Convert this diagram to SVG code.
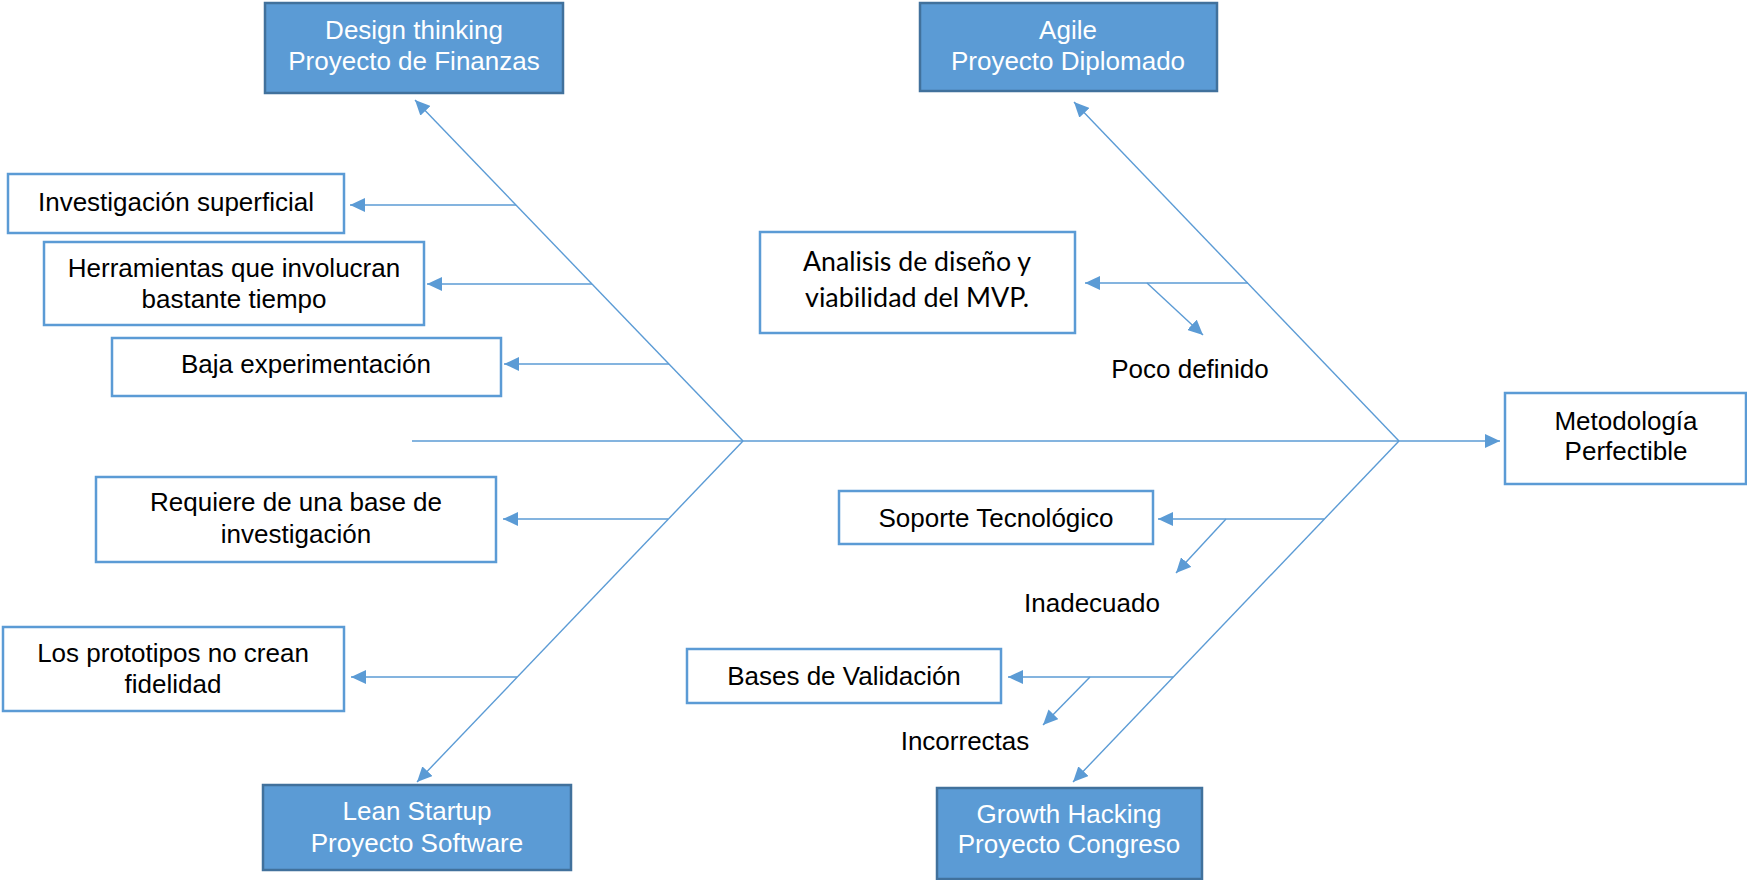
<svg xmlns="http://www.w3.org/2000/svg" width="1747" height="880" viewBox="0 0 1747 880">
<style>
.box{fill:#fff;stroke:#5B9BD5;stroke-width:2.5}
.hbox{fill:#5B9BD5;stroke:#41719C;stroke-width:2.5}
.t{font-family:"Liberation Sans",Arial,sans-serif;font-size:26px;fill:#000;text-anchor:middle}
.w{fill:#fff}
.c{font-family:Lato,"Open Sans",sans-serif}
.ln{stroke:#5B9BD5;stroke-width:1.4;fill:none;marker-end:url(#ah)}
</style>
<defs>
<marker id="ah" markerUnits="userSpaceOnUse" markerWidth="16" markerHeight="14" refX="15" refY="7" orient="auto">
<path d="M0,0 L15,7 L0,14 z" fill="#5B9BD5"/>
</marker>
</defs>
<rect width="1747" height="880" fill="#fff"/>
<g id="connectors">
<line class="ln" x1="412" y1="441" x2="1500" y2="441"/>
<line class="ln" x1="743" y1="441" x2="415" y2="100"/>
<line class="ln" x1="1399" y1="441" x2="1074" y2="102"/>
<line class="ln" x1="743" y1="441" x2="417" y2="782"/>
<line class="ln" x1="1399" y1="441" x2="1073" y2="782"/>
<line class="ln" x1="516" y1="205" x2="350" y2="205"/>
<line class="ln" x1="592" y1="284" x2="427" y2="284"/>
<line class="ln" x1="669" y1="364" x2="504" y2="364"/>
<line class="ln" x1="668" y1="519" x2="503" y2="519"/>
<line class="ln" x1="517" y1="677" x2="351" y2="677"/>
<line class="ln" x1="1248" y1="283" x2="1085" y2="283"/>
<line class="ln" x1="1147" y1="283" x2="1203" y2="335"/>
<line class="ln" x1="1324" y1="519" x2="1158" y2="519"/>
<line class="ln" x1="1226" y1="519" x2="1176" y2="573"/>
<line class="ln" x1="1173" y1="677" x2="1008" y2="677"/>
<line class="ln" x1="1090" y1="677" x2="1043" y2="725"/>
</g>
<g id="design-thinking">
<rect class="hbox" x="265" y="3" width="298" height="90"/>
<text class="t w" x="414" y="39">Design thinking</text>
<text class="t w" x="414" y="70">Proyecto de Finanzas</text>
</g>
<g id="agile">
<rect class="hbox" x="920" y="3" width="297" height="88"/>
<text class="t w" x="1068" y="39">Agile</text>
<text class="t w" x="1068" y="70">Proyecto Diplomado</text>
</g>
<g id="lean-startup">
<rect class="hbox" x="263" y="785" width="308" height="85"/>
<text class="t w" x="417" y="820">Lean Startup</text>
<text class="t w" x="417" y="852">Proyecto Software</text>
</g>
<g id="growth-hacking">
<rect class="hbox" x="937" y="788" width="265" height="91"/>
<text class="t w" x="1069" y="823">Growth Hacking</text>
<text class="t w" x="1069" y="853">Proyecto Congreso</text>
</g>
<g id="metodologia">
<rect class="box" x="1505" y="393" width="241" height="91"/>
<text class="t" x="1626" y="430">Metodología</text>
<text class="t" x="1626" y="460">Perfectible</text>
</g>
<g id="investigacion">
<rect class="box" x="8" y="174" width="336" height="59"/>
<text class="t" x="176" y="211">Investigación superficial</text>
</g>
<g id="herramientas">
<rect class="box" x="44" y="242" width="380" height="83"/>
<text class="t" x="234" y="277">Herramientas que involucran</text>
<text class="t" x="234" y="308">bastante tiempo</text>
</g>
<g id="baja">
<rect class="box" x="112" y="338" width="389" height="58"/>
<text class="t" x="306" y="373">Baja experimentación</text>
</g>
<g id="requiere">
<rect class="box" x="96" y="477" width="400" height="85"/>
<text class="t" x="296" y="511">Requiere de una base de</text>
<text class="t" x="296" y="543">investigación</text>
</g>
<g id="prototipos">
<rect class="box" x="3" y="627" width="341" height="84"/>
<text class="t" x="173" y="662">Los prototipos no crean</text>
<text class="t" x="173" y="693">fidelidad</text>
</g>
<g id="analisis">
<rect class="box" x="760" y="232" width="315" height="101"/>
<text class="t c" x="917" y="271" textLength="228" lengthAdjust="spacingAndGlyphs">Analisis de diseño y</text>
<text class="t c" x="917" y="307" textLength="224" lengthAdjust="spacingAndGlyphs">viabilidad del MVP.</text>
</g>
<g id="poco-definido">
<text class="t" x="1190" y="378">Poco definido</text>
</g>
<g id="soporte">
<rect class="box" x="839" y="491" width="314" height="53"/>
<text class="t" x="996" y="527">Soporte Tecnológico</text>
</g>
<g id="inadecuado">
<text class="t" x="1092" y="612">Inadecuado</text>
</g>
<g id="bases">
<rect class="box" x="687" y="649" width="314" height="54"/>
<text class="t" x="844" y="685">Bases de Validación</text>
</g>
<g id="incorrectas">
<text class="t" x="965" y="750">Incorrectas</text>
</g>
</svg>
